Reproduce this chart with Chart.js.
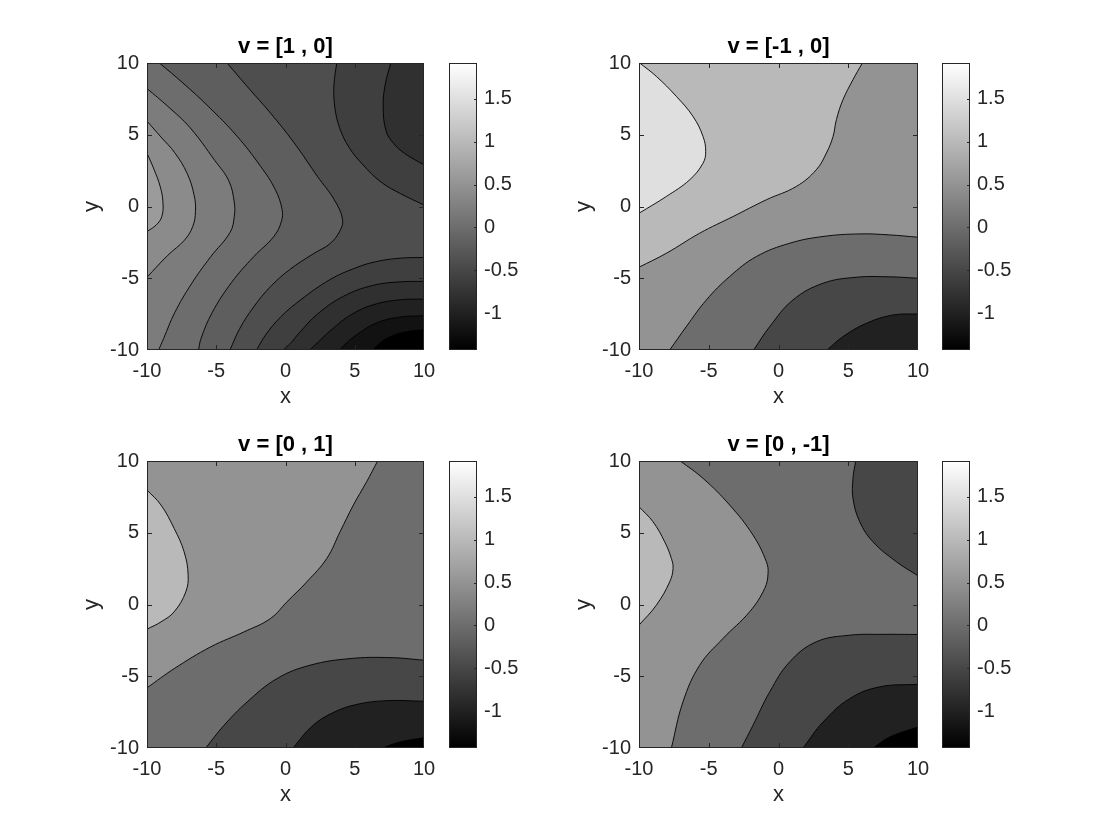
<!DOCTYPE html>
<html>
<head>
<meta charset="utf-8">
<script src="https://cdn.jsdelivr.net/npm/chart.js@4.4.1/dist/chart.umd.min.js"></script>
<style>
body { margin: 0; background: #fff; }
#fig { position: relative; width: 1120px; height: 840px; background: #fff; }
.panel { position: absolute; }
</style>
</head>
<body>
<div id="fig"></div>
<script>
var titles = ['v = [1 , 0]', 'v = [-1 , 0]', 'v = [0 , 1]', 'v = [0 , -1]'];
var axisTicks = [-10, -5, 0, 5, 10];
var cbarTicks = [-1, -0.5, 0, 0.5, 1, 1.5];
var cMin = -1.43, cMax = 1.92;

// contour lines [x, y]
var p1A = [[-10, 3.72], [-9.5, 2.6], [-9.05, 1.4], [-8.85, 0.3], [-8.93, -0.7], [-9.35, -1.3], [-10, -1.74]];
var p1B = [[-10, 5.95], [-9.0, 4.85], [-8.0, 3.75], [-7.1, 2.3], [-6.6, 0.8], [-6.5, -0.35], [-6.7, -1.4], [-7.3, -2.35], [-8.5, -3.4], [-10, -4.93]];
var p1C = [[-10, 8.22], [-8.5, 6.98], [-6.9, 5.5], [-5.1, 3.2], [-4.1, 1.8], [-3.7, 0.3], [-3.7, -0.7], [-4.0, -1.8], [-5.4, -3.5], [-6.8, -5.4], [-8.0, -7.4], [-8.8, -9.2], [-9.16, -10]];
var p1D = [[-9.1, 10], [-7.4, 8.6], [-5.6, 7.0], [-3.5, 4.9], [-1.8, 2.8], [-0.75, 1.2], [-0.25, -0.2], [-0.3, -1.05], [-0.85, -2.1], [-2.3, -3.5], [-3.9, -5.3], [-5.3, -7.4], [-6.1, -9.2], [-6.28, -10]];
var p1E = [[-4.22, 10], [-2.8, 8.4], [-0.9, 6.3], [0.8, 4.2], [2.3, 2.1], [3.5, 0.5], [4.12, -0.9], [3.9, -1.75], [3.2, -2.6], [2.0, -3.3], [0.3, -4.4], [-1.1, -5.6], [-2.3, -7.0], [-3.3, -8.5], [-4.01, -10]];
var p1F = [[3.7, 10], [3.5, 8.5], [3.55, 7.0], [3.9, 5.5], [4.6, 4.1], [5.6, 2.9], [6.9, 1.7], [8.3, 0.9], [10, 0.1]];
var p1G = [[7.6, 10], [7.2, 8.5], [7.05, 7.0], [7.25, 5.3], [7.8, 4.4], [8.6, 3.7], [10, 2.9]];
var p1H = [[10, -3.55], [8.3, -3.6], [6.5, -3.85], [5.0, -4.3], [3.2, -5.1], [1.1, -6.5], [-0.35, -7.7], [-1.4, -8.9], [-2.09, -10]];
var p1I = [[10, -5.22], [8.3, -5.25], [6.3, -5.5], [4.2, -6.25], [2.3, -7.5], [1.0, -8.8], [0.3, -9.6], [-0.17, -10]];
var p1J = [[10, -6.45], [8.3, -6.5], [6.5, -6.8], [4.8, -7.5], [3.3, -8.6], [2.3, -9.5], [1.75, -10]];
var p1K = [[10, -7.61], [8.3, -7.7], [6.6, -8.1], [5.2, -8.9], [4.3, -9.6], [3.91, -10]];
var p1L = [[10, -8.59], [8.6, -8.75], [7.3, -9.2], [6.6, -9.7], [6.31, -10]];

var p2P = [[-9.95, 10], [-8.76, 9.07], [-7.32, 7.67], [-6.13, 6.28], [-5.41, 4.88], [-5.22, 3.84], [-5.41, 3.02], [-6.37, 1.86], [-8.04, 0.7], [-10, -0.47]];
var p2Q = [[-10, -4.23], [-8.04, -3.26], [-5.65, -1.86], [-3.26, -0.7], [-0.87, 0.47], [1.28, 1.4], [2.71, 2.56], [3.43, 3.72], [3.91, 4.88], [4.15, 6.05], [4.62, 7.44], [5.34, 8.84], [6.01, 10]];
var p2R = [[-7.8, -10], [-6.61, -8.37], [-5.17, -6.51], [-3.5, -4.88], [-1.59, -3.49], [0.8, -2.56], [3.19, -2.09], [5.82, -1.91], [7.97, -1.98], [10, -2.14]];
var p2S = [[-1.78, -10], [-0.63, -8.37], [1.04, -6.51], [3.19, -5.35], [5.58, -4.93], [7.97, -4.9], [10, -5.0]];
var p2T = [[3.48, -10], [4.62, -9.07], [6.3, -8.14], [8.21, -7.56], [10, -7.49]];

var p3U = [[-10, 7.98], [-8.99, 6.93], [-8.04, 5.3], [-7.32, 3.67], [-7.03, 2.05], [-7.2, 0.88], [-8.04, -0.51], [-8.99, -1.21], [-10, -1.72]];
var p3V = [[-10, -5.81], [-8.04, -4.47], [-5.4, -2.95], [-3.0, -1.91], [-1.09, -0.98], [0.11, 0.19], [1.54, 1.58], [2.98, 3.21], [3.94, 5.07], [4.9, 6.93], [5.86, 8.56], [6.65, 10]];
var p3W = [[-5.76, -10], [-4.44, -8.42], [-2.77, -6.79], [-0.61, -5.16], [1.78, -4.23], [4.66, -3.77], [7.53, -3.7], [10, -3.88]];
var p3X = [[0.54, -10], [1.9, -8.5], [3.4, -7.55], [5.2, -6.95], [7.4, -6.7], [10, -6.74]];
var p3Y = [[7.0, -10], [8.25, -9.58], [10, -9.28]];

var p4A = [[-10, 6.81], [-9.0, 5.77], [-8.16, 4.37], [-7.68, 3.21], [-7.56, 2.51], [-7.8, 1.58], [-8.76, -0.05], [-10, -1.44]];
var p4B = [[-7.04, 10], [-5.41, 8.79], [-3.5, 6.93], [-1.83, 4.84], [-0.87, 2.98], [-0.75, 2.16], [-0.99, 1.12], [-2.07, -0.51], [-3.98, -2.37], [-5.65, -4.23], [-6.85, -6.79], [-7.68, -10]];
var p4C = [[5.53, 10], [5.34, 8.79], [5.34, 7.4], [5.82, 5.77], [6.77, 4.37], [8.45, 2.98], [10, 2.0]];
var p4D = [[-2.66, -10], [-1.83, -8.42], [-0.63, -6.09], [0.8, -4.0], [2.71, -2.6], [5.1, -2.14], [7.5, -2.08], [10, -2.09]];
var p4E = [[1.76, -10], [3.19, -8.19], [5.1, -6.56], [7.25, -5.74], [10, -5.56]];
var p4F = [[6.77, -10], [7.97, -9.23], [10, -8.53]];

// level value of the colour of each band; side = plot corners on the filled side
var baseLevels = [-0.4, 0.5, 0, 0];
var p1Regions = [
    { line: p1E, level: -0.2, side: ['bl', 'tl'] },
    { line: p1D, level: 0, side: ['bl', 'tl'] },
    { line: p1C, level: 0.2, side: ['bl'] },
    { line: p1B, level: 0.4, side: [] },
    { line: p1A, level: 0.6, side: [] },
    { line: p1F, level: -0.6, side: ['tr'] },
    { line: p1G, level: -0.8, side: ['tr'] },
    { line: p1H, level: -0.6, side: ['br'] },
    { line: p1I, level: -0.8, side: ['br'] },
    { line: p1J, level: -1.0, side: ['br'] },
    { line: p1K, level: -1.2, side: ['br'] },
    { line: p1L, level: -1.5, side: ['br'] }
];
var p2Regions = [
    { line: p2Q, level: 1.0, side: ['tl'] },
    { line: p2P, level: 1.5, side: ['tl'] },
    { line: p2R, level: 0, side: ['br'] },
    { line: p2S, level: -0.5, side: ['br'] },
    { line: p2T, level: -1.0, side: ['br'] }
];
var p3Regions = [
    { line: p3V, level: 0.5, side: ['tl'] },
    { line: p3U, level: 1.0, side: [] },
    { line: p3W, level: -0.5, side: ['br'] },
    { line: p3X, level: -1.0, side: ['br'] },
    { line: p3Y, level: -1.5, side: ['br'] }
];
var p4Regions = [
    { line: p4B, level: 0.5, side: ['bl', 'tl'] },
    { line: p4A, level: 1.0, side: [] },
    { line: p4C, level: -0.5, side: ['tr'] },
    { line: p4D, level: -0.5, side: ['br'] },
    { line: p4E, level: -1.0, side: ['br'] },
    { line: p4F, level: -1.5, side: ['br'] }
];
var allRegions = [p1Regions, p2Regions, p3Regions, p4Regions];

// layout (page pixels)
var axLeft = [147, 639, 147, 639];
var axWidth = [277, 279, 277, 279];
var axTop = [63, 63, 461, 461];
var axHeight = 287;
var cbLeft = [449, 942, 449, 942];
var cbWidth = 28;

var FONT = "'Liberation Sans', Arial, Helvetica, sans-serif";
var INK = '#262626';
Chart.defaults.font.family = FONT;

var OUT = 14;
var CORNER = { tl: [-OUT, OUT], tr: [OUT, OUT], bl: [-OUT, -OUT], br: [OUT, -OUT] };

function gray(v) {
    var t = Math.min(1, Math.max(0, (v - cMin) / (cMax - cMin)));
    var g = Math.round(255 * t);
    return 'rgb(' + g + ',' + g + ',' + g + ')';
}

// carry a line end on past the plot edge, so fill and stroke share one curve
function pushOut(p, q) {
    var dx = p[0] - q[0], dy = p[1] - q[1];
    var d = Math.sqrt(dx * dx + dy * dy) || 1;
    return [p[0] + dx / d * 3, p[1] + dy / d * 3];
}

function toXY(list) {
    return list.map(function (p) { return { x: p[0], y: p[1] }; });
}

function extended(line) {
    var n = line.length;
    return [pushOut(line[0], line[1])].concat(line, [pushOut(line[n - 1], line[n - 2])]);
}

function regionPoints(r) {
    var pts = extended(r.line);
    r.side.forEach(function (c) { pts.push(CORNER[c]); });
    return toXY(pts);
}

var framePlugin = {
    id: 'frame',
    afterDatasetsDraw: function (chart, args, opts) {
        var a = chart.chartArea, ctx = chart.ctx, len = opts.len;
        ctx.save();
        ctx.strokeStyle = INK;
        ctx.lineWidth = 1;
        ctx.strokeRect(a.left + 0.5, a.top + 0.5, a.right - a.left - 1, a.bottom - a.top - 1);
        ctx.beginPath();
        if (opts.xTicks) {
            var xs = chart.scales.x;
            xs.ticks.forEach(function (t) {
                var p = Math.round(xs.getPixelForValue(t.value)) + 0.5;
                if (p < a.left + 2 || p > a.right - 2) return;
                ctx.moveTo(p, a.bottom); ctx.lineTo(p, a.bottom - len);
                ctx.moveTo(p, a.top); ctx.lineTo(p, a.top + len);
            });
        }
        var ys = chart.scales.y;
        ys.ticks.forEach(function (t) {
            var p = Math.round(ys.getPixelForValue(t.value)) + 0.5;
            if (p < a.top + 2 || p > a.bottom - 2) return;
            if (opts.leftTicks) { ctx.moveTo(a.left, p); ctx.lineTo(a.left + len, p); }
            ctx.moveTo(a.right, p); ctx.lineTo(a.right - len, p);
        });
        ctx.stroke();
        ctx.restore();
    }
};

function makeCanvas(left, top, w, h) {
    var div = document.createElement('div');
    div.className = 'panel';
    div.style.left = left + 'px';
    div.style.top = top + 'px';
    div.style.width = w + 'px';
    div.style.height = h + 'px';
    var cv = document.createElement('canvas');
    cv.width = w;
    cv.height = h;
    div.appendChild(cv);
    document.getElementById('fig').appendChild(div);
    return cv;
}

function setTicks(values) {
    return function (s) { s.ticks = values.map(function (v) { return { value: v }; }); };
}

function plainLabel(v) { return String(v); }

function drawPanel(i) {
    var regions = allRegions[i];
    var datasets = [];
    var order = 100;
    datasets.push({
        data: toXY([CORNER.tl, CORNER.tr, CORNER.br, CORNER.bl]),
        showLine: true, fill: 'shape', tension: 0,
        backgroundColor: gray(baseLevels[i]), borderColor: 'rgba(0,0,0,0)', borderWidth: 0,
        pointRadius: 0, order: order--
    });
    regions.forEach(function (r) {
        datasets.push({
            data: regionPoints(r),
            showLine: true, fill: 'shape', tension: 0.4,
            backgroundColor: gray(r.level), borderColor: 'rgba(0,0,0,0)', borderWidth: 0,
            pointRadius: 0, order: order--
        });
    });
    regions.forEach(function (r) {
        datasets.push({
            data: toXY(extended(r.line)),
            showLine: true, fill: false, tension: 0.4,
            borderColor: '#000', borderWidth: 0.9,
            pointRadius: 0, order: 0
        });
    });

    var W = axWidth[i];
    var cv = makeCanvas(axLeft[i] - 70, axTop[i] - 40, W + 140, axHeight + 105);
    new Chart(cv.getContext('2d'), {
        type: 'scatter',
        data: { datasets: datasets },
        plugins: [framePlugin],
        options: {
            responsive: false,
            animation: false,
            events: [],
            layout: { padding: 0 },
            plugins: {
                legend: { display: false },
                tooltip: { enabled: false },
                title: {
                    display: true, text: titles[i], color: '#000',
                    font: { size: 22, weight: 'bold', lineHeight: 1 },
                    padding: { top: 13, bottom: 5 }
                },
                frame: { len: 5, xTicks: true, leftTicks: true }
            },
            scales: {
                x: {
                    type: 'linear', min: -10, max: 10,
                    afterBuildTicks: setTicks(axisTicks),
                    afterFit: function (s) { s.height = 65; },
                    grid: { display: false, drawTicks: false }, border: { display: false },
                    ticks: { color: INK, font: { size: 20 }, padding: 9, maxRotation: 0, autoSkip: false, callback: plainLabel },
                    title: { display: true, text: 'x', color: INK, font: { size: 22 }, padding: { top: 0, bottom: 5 } }
                },
                y: {
                    type: 'linear', min: -10, max: 10,
                    afterBuildTicks: setTicks(axisTicks),
                    afterFit: function (s) { s.width = 70; },
                    grid: { display: false, drawTicks: false }, border: { display: false },
                    ticks: { color: INK, font: { size: 20 }, padding: 8, autoSkip: false, callback: plainLabel },
                    title: { display: true, text: 'y', color: INK, font: { size: 22 }, padding: { top: 2, bottom: 0 } }
                },
                pad: {
                    type: 'linear', position: 'right', min: -10, max: 10,
                    afterFit: function (s) { s.width = 70; },
                    grid: { display: false, drawTicks: false }, border: { display: false },
                    ticks: { display: false }
                }
            }
        }
    });

    // colour bar
    var cb = makeCanvas(cbLeft[i], axTop[i] - 12, cbWidth + 50, axHeight + 24);
    new Chart(cb.getContext('2d'), {
        type: 'bar',
        data: {
            labels: ['c'],
            datasets: [{
                data: [[cMin, cMax]],
                backgroundColor: function (c) {
                    var a = c.chart.chartArea;
                    if (!a) return '#888';
                    var g = c.chart.ctx.createLinearGradient(0, a.bottom, 0, a.top);
                    g.addColorStop(0, '#000');
                    g.addColorStop(1, '#fff');
                    return g;
                },
                borderWidth: 0,
                barPercentage: 1,
                categoryPercentage: 1
            }]
        },
        plugins: [framePlugin],
        options: {
            responsive: false,
            animation: false,
            events: [],
            layout: { padding: { top: 12, bottom: 12, left: 0, right: 0 } },
            plugins: {
                legend: { display: false },
                tooltip: { enabled: false },
                frame: { len: 3, xTicks: false, leftTicks: false }
            },
            scales: {
                x: { display: false },
                y: {
                    position: 'right', min: cMin, max: cMax,
                    afterBuildTicks: setTicks(cbarTicks),
                    afterFit: function (s) { s.width = 50; s.paddingTop = 0; s.paddingBottom = 0; },
                    grid: { display: false, drawTicks: false }, border: { display: false },
                    ticks: { color: INK, font: { size: 20 }, padding: 7, autoSkip: false, callback: plainLabel }
                }
            }
        }
    });
}

for (var i = 0; i < 4; i++) drawPanel(i);
</script>
</body>
</html>
